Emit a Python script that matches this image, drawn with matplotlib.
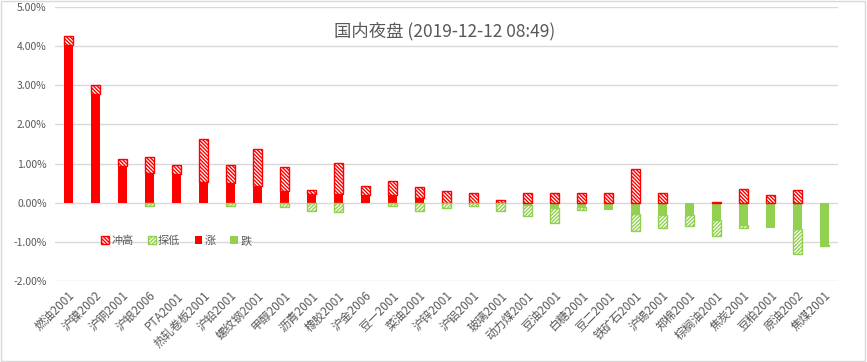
import numpy as np
import matplotlib
matplotlib.use('Agg')
import matplotlib.pyplot as plt
from matplotlib.patches import Patch, Rectangle
from matplotlib.ticker import FuncFormatter

plt.rcParams['font.family'] = ['Noto Sans CJK SC', 'DejaVu Sans']
plt.rcParams['hatch.linewidth'] = 1.0

# 国内夜盘 2019-12-12: close / high / low change, in %
names = ['燃油2001', '沪镍2002', '沪铜2001', '沪银2006', 'PTA2001', '热轧卷板2001',
         '沪铅2001', '螺纹钢2001', '甲醇2001', '沥青2001', '橡胶2001', '沪金2006',
         '豆一2001', '菜油2001', '沪锌2001', '沪铝2001', '玻璃2001', '动力煤2001',
         '豆油2001', '白糖2001', '豆二2001', '铁矿石2001', '沪锡2001', '郑棉2001',
         '棕榈油2001', '焦炭2001', '豆粕2001', '原油2002', '焦煤2001']
close = [4.03, 2.79, 0.93, 0.75, 0.73, 0.52, 0.50, 0.42, 0.31, 0.21, 0.21, 0.19,
         0.19, 0.13, 0.0, 0.0, 0.0, -0.07, -0.13, -0.11, -0.19, -0.29, -0.32, -0.32,
         -0.44, -0.57, -0.65, -0.68, -1.07]
high = [4.25, 3.02, 1.12, 1.17, 0.97, 1.63, 0.97, 1.38, 0.91, 0.32, 1.02, 0.43,
        0.56, 0.41, 0.29, 0.26, 0.08, 0.24, 0.24, 0.24, 0.26, 0.86, 0.24, 0.0,
        0.03, 0.34, 0.19, 0.32, 0.0]
low = [0.0, 0.0, 0.0, -0.09, 0.0, 0.0, -0.08, 0.0, -0.11, -0.21, -0.24, 0.0,
       -0.09, -0.21, -0.14, -0.09, -0.21, -0.34, -0.52, -0.18, -0.19, -0.73, -0.64,
       -0.60, -0.85, -0.65, -0.65, -1.31, -1.11]

RED = '#FF0000'
GREEN = '#92D050'
GREY = '#595959'
HATCH_UP = '\\' * 9
HATCH_DN = '/' * 9

c = np.array(close)
rise = np.clip(c, 0, None)
fall = np.clip(c, None, 0)
up = np.clip(np.array(high) - rise, 0, None)
down = np.clip(np.array(low) - fall, None, 0)

fig = plt.figure(figsize=(8.67, 3.62), dpi=100)
ax = fig.add_axes([55 / 867, 1 - 281 / 362, 783 / 867, 274 / 362])

x = np.arange(len(names))
w = 0.36


def draw(h, bottom, **kw):
    m = h != 0
    ax.bar(x[m], h[m], w, bottom=bottom[m], zorder=3, **kw)


zero = np.zeros(len(names))
draw(rise, zero, color=RED)
draw(fall, zero, color=GREEN)
draw(up, rise, facecolor='white', edgecolor=RED, hatch=HATCH_UP, linewidth=1.0)
draw(down, fall, facecolor='white', edgecolor=GREEN, hatch=HATCH_DN, linewidth=1.0)

ax.set_xlim(-0.5, len(names) - 0.5)
ax.set_ylim(-2, 5)
ax.set_yticks(np.arange(-2, 6, 1))
ax.yaxis.set_major_formatter(FuncFormatter(lambda v, p: f'{v:.2f}%'))
ax.grid(axis='y', color='#D9D9D9', linewidth=1.0, zorder=0)
ax.set_axisbelow(True)
for s in ax.spines.values():
    s.set_visible(False)
ax.tick_params(length=0, colors=GREY)
ax.tick_params(axis='x', pad=6, labelsize=8.5)
ax.tick_params(axis='y', pad=6, labelsize=7.5)
ax.set_xticks(x)
ax.set_xticklabels(names, rotation=45, ha='right', rotation_mode='anchor')

handles = [
    Patch(facecolor='white', edgecolor=RED, hatch=HATCH_UP, label='冲高'),
    Patch(facecolor='white', edgecolor=GREEN, hatch=HATCH_DN, label='探低'),
    Patch(facecolor=RED, label='涨'),
    Patch(facecolor=GREEN, label='跌'),
]
leg = ax.legend(handles=handles, loc='center', bbox_to_anchor=(0.155, 0.146), ncol=4,
                frameon=False, fontsize=8, handlelength=0.7, handleheight=0.7,
                handletextpad=0.2, columnspacing=1.3)
for t in leg.get_texts():
    t.set_color(GREY)

fig.text(0.513, 0.915, '国内夜盘 (2019-12-12 08:49)', ha='center', va='center',
         fontsize=12.5, color=GREY)

fig.patches.append(Rectangle((0.001, 0.002), 0.997, 0.995, transform=fig.transFigure,
                             fill=False, edgecolor='#D9D9D9', linewidth=1.0))

fig.savefig('out.png', dpi=100)
